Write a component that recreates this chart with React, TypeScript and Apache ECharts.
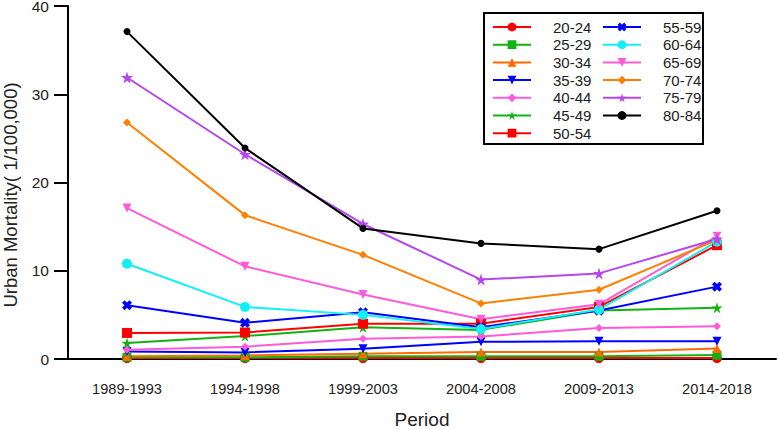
import React, { useEffect, useRef } from "react";
import * as echarts from "echarts";

const periods = ["1989-1993", "1994-1998", "1999-2003", "2004-2008", "2009-2013", "2014-2018"];
const ageGroups = ["20-24", "25-29", "30-34", "35-39", "40-44", "45-49", "50-54", "55-59", "60-64", "65-69", "70-74", "75-79", "80-84"];

const v20_24 = [0.1, 0.1, 0.1, 0.1, 0.1, 0.1];
const v25_29 = [0.2, 0.2, 0.3, 0.3, 0.3, 0.45];
const v30_34 = [0.3, 0.4, 0.6, 0.8, 0.8, 1.2];
const v35_39 = [0.85, 0.75, 1.15, 1.95, 2.0, 2.0];
const v40_44 = [1.05, 1.4, 2.3, 2.55, 3.5, 3.7];
const v45_49 = [1.8, 2.6, 3.6, 3.3, 5.5, 5.8];
const v50_54 = [2.95, 3.0, 4.0, 4.0, 5.9, 12.9];
const v55_59 = [6.1, 4.1, 5.3, 3.6, 5.5, 8.2];
const v60_64 = [10.8, 5.9, 5.0, 3.4, 5.6, 13.3];
const v65_69 = [17.1, 10.5, 7.3, 4.5, 6.2, 13.9];
const v70_74 = [26.8, 16.3, 11.8, 6.3, 7.85, 13.5];
const v75_79 = [31.9, 23.2, 15.3, 9.0, 9.7, 13.6];
const v80_84 = [37.1, 23.9, 14.8, 13.1, 12.45, 16.8];

const yTicks = [0, 10, 20, 30, 40];

const STAR = "path://M50,0 L61,35 L98,35 L68,57 L79,91 L50,70 L21,91 L32,57 L2,35 L39,35 Z";
const XMARK = "path://M0,2.6 L2.6,0 L5,2.4 L7.4,0 L10,2.6 L7.6,5 L10,7.4 L7.4,10 L5,7.6 L2.6,10 L0,7.4 L2.4,5 Z";
const DOWN = "path://M0,0 L10,0 L5,9 Z";

const seriesValues = [v20_24, v25_29, v30_34, v35_39, v40_44, v45_49, v50_54, v55_59, v60_64, v65_69, v70_74, v75_79, v80_84];
const colors = ["#FF0000", "#12B212", "#FF6A00", "#0000FF", "#FF5AD8", "#12B212", "#FF0000", "#0000FF", "#11F0F5", "#FF5AD8", "#FF8000", "#B547EE", "#000000"];
const symbols = ["circle", "rect", "triangle", DOWN, "diamond", STAR, "rect", XMARK, "circle", DOWN, "diamond", STAR, "circle"];
const sizes = [10, 9, 9, 9, 8, 11, 10, 10, 10, 9, 8, 12, 7];

export default function App() {
  const ref = useRef<HTMLDivElement>(null);
  useEffect(() => {
    if (!ref.current) return;
    const chart = echarts.init(ref.current, null, { renderer: "svg" });
    const font = "Liberation Sans, Arial, sans-serif";
    const legendCommon = {
      orient: "vertical" as const,
      padding: 0,
      itemWidth: 38,
      itemHeight: 11,
      itemGap: 2.7,
      textStyle: { fontSize: 15, color: "#222", fontFamily: font, padding: [0, 0, 0, 17], lineHeight: 15 },
      selectedMode: false,
    };
    chart.setOption({
      animation: false,
      backgroundColor: "#fff",
      grid: { left: 68, right: 2, top: 6, bottom: 70, containLabel: false, outerBoundsMode: "none" },
      legend: [
        { ...legendCommon, left: 492, top: 19.5, data: ageGroups.slice(0, 7) },
        { ...legendCommon, left: 602, top: 19.5, data: ageGroups.slice(7) },
      ],
      graphic: [
        {
          type: "rect",
          shape: { x: 484, y: 13, width: 219, height: 131 },
          style: { fill: "none", stroke: "#000", lineWidth: 2 },
          z: -1,
        },
      ],
      xAxis: {
        type: "category",
        data: periods,
        boundaryGap: true,
        name: "Period",
        nameLocation: "middle",
        nameGap: 52,
        nameTextStyle: { fontSize: 19, lineHeight: 17, color: "#222", fontFamily: font },
        axisLine: { lineStyle: { color: "#000", width: 2 } },
        axisTick: { alignWithLabel: true, length: 14, lineStyle: { color: "#000", width: 2 } },
        axisLabel: { fontSize: 14.6, color: "#222", fontFamily: font, margin: 22 },
      },
      yAxis: {
        type: "value",
        min: yTicks[0],
        max: yTicks[yTicks.length - 1],
        interval: 10,
        name: "Urban Mortality( 1/100,000)",
        nameLocation: "middle",
        nameGap: 48,
        nameTextStyle: { fontSize: 18.5, color: "#222", fontFamily: font, padding: [0, 25, 0, 0] },
        axisLine: { show: true, lineStyle: { color: "#000", width: 2 } },
        axisTick: { show: true, length: 14, lineStyle: { color: "#000", width: 2 } },
        axisLabel: { fontSize: 15.5, lineHeight: 12, color: "#222", fontFamily: font, margin: 19 },
        splitLine: { show: false },
      },
      series: ageGroups.map((name, i) => ({
        name,
        type: "line",
        data: seriesValues[i],
        symbol: symbols[i],
        symbolSize: sizes[i],
        showAllSymbol: true,
        color: colors[i],
        lineStyle: { width: 2, color: colors[i] },
        itemStyle: { color: colors[i] },
        z: 2,
      })),
    });
    return () => chart.dispose();
  }, []);
  return <div ref={ref} style={{ width: 778, height: 429, position: "absolute", left: 0, top: 0 }} />;
}
